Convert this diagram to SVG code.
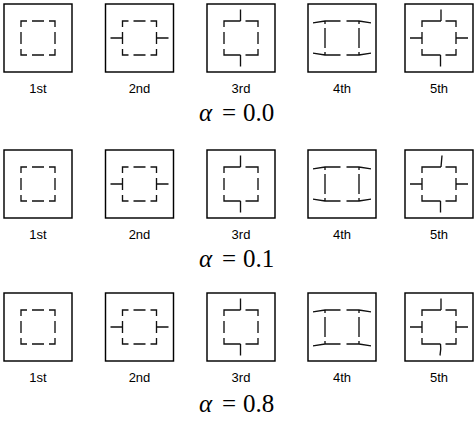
<svg xmlns="http://www.w3.org/2000/svg" xmlns:xlink="http://www.w3.org/1999/xlink" width="474" height="429" viewBox="0 0 474 429">
<style>
.box{fill:none;stroke:#000;stroke-width:1.45}
.sq{fill:none;stroke:#111;stroke-width:1.35;stroke-linecap:butt;stroke-linejoin:miter}
.lbl{font-family:"Liberation Sans",Arial,sans-serif;font-size:13px;text-anchor:middle;fill:#000}
.alpha{font-family:"Liberation Serif","Times New Roman",serif;font-size:25px;fill:#000}
</style>
<defs>
<rect id="frame" class="box" x="0" y="0" width="68" height="68"/>
<path id="t1" class="sq" d="M17,23V17H23M45,17H51V23M51,45V51H45M23,51H17V45M28,17H40M28,51H40M17,28V40M51,28V40"/>
<path id="t2" class="sq" d="M17,23V17H23M45,17H51V23M51,45V51H45M23,51H17V45M28,17H40M28,51H40M17,28V40M51,28V40M5,34H17M51,34H63"/>
<path id="t3" class="sq" d="M17,23V17H33.5M33.5,5.5V17M38.5,17H51V23M17,45V51H33.5M33.5,51V62.5M38.5,51H51V45M17,28V40M51,28V40"/>
<path id="t5" class="sq" d="M17,23V17H36M40.5,17H51V23M17,45V51H35.5M40.5,51H51V45M17,28V40M51,28V40M5,34H17M51,34H63"/>
</defs>

<g id="row1">
<g id="r1b1" transform="translate(4,4)"><use xlink:href="#frame"/><use xlink:href="#t1"/></g>
<g id="r1b2" transform="translate(105.5,4)"><use xlink:href="#frame"/><use xlink:href="#t2"/></g>
<g id="r1b3" transform="translate(207,4)"><use xlink:href="#frame"/><use xlink:href="#t3"/></g>
<g id="r1b4" transform="translate(308,4)"><use xlink:href="#frame"/><path class="sq" d="M5,18.8L17,17M17,20V17H32.5M38.5,17H51V20M51,17L63,18.8M17,24V44M51,24V44M17,48V51H32.5M38.5,51H51V48M5,49.2L17,51M51,51L63,49.2"/></g>
<g id="r1b5" transform="translate(405,4)"><use xlink:href="#frame"/><use xlink:href="#t5"/><path class="sq" d="M36,5.5V17M35.5,51V62.5"/></g>
<text class="lbl" x="38" y="93">1st</text>
<text class="lbl" x="139.5" y="93">2nd</text>
<text class="lbl" x="241" y="93">3rd</text>
<text class="lbl" x="342" y="93">4th</text>
<text class="lbl" x="439" y="93">5th</text>
<text class="alpha" y="121"><tspan x="199" font-style="italic">α</tspan><tspan x="222">=</tspan><tspan x="243">0.0</tspan></text>
</g>

<g id="row2">
<g id="r2b1" transform="translate(4,150)"><use xlink:href="#frame"/><use xlink:href="#t1"/></g>
<g id="r2b2" transform="translate(105.5,150)"><use xlink:href="#frame"/><use xlink:href="#t2"/></g>
<g id="r2b3" transform="translate(207,150)"><use xlink:href="#frame"/><use xlink:href="#t3"/></g>
<g id="r2b4" transform="translate(308,150)"><use xlink:href="#frame"/><path class="sq" d="M5,18.8L17,17M17,20V17H32.5M38.5,17H51V20M51,17L63,18.8M17,24V44M51,24V44M17,48V51H32.5M38.5,51H51V48M5,49.2L17,51M51,51L63,49.2"/></g>
<g id="r2b5" transform="translate(405,150)"><use xlink:href="#frame"/><use xlink:href="#t5"/><path class="sq" d="M37,5.5L36,17M35.5,51V62.5"/></g>
<text class="lbl" x="38" y="239">1st</text>
<text class="lbl" x="139.5" y="239">2nd</text>
<text class="lbl" x="241" y="239">3rd</text>
<text class="lbl" x="342" y="239">4th</text>
<text class="lbl" x="439" y="239">5th</text>
<text class="alpha" y="267"><tspan x="199" font-style="italic">α</tspan><tspan x="222">=</tspan><tspan x="243">0.1</tspan></text>
</g>

<g id="row3">
<g id="r3b1" transform="translate(4,293)"><use xlink:href="#frame"/><use xlink:href="#t1"/></g>
<g id="r3b2" transform="translate(105.5,293)"><use xlink:href="#frame"/><use xlink:href="#t2"/></g>
<g id="r3b3" transform="translate(207,293)"><use xlink:href="#frame"/><use xlink:href="#t3"/></g>
<g id="r3b4" transform="translate(308,293)"><use xlink:href="#frame"/><path class="sq" d="M5,18.8L17,17M17,20V17H32.5M38.5,17H51V20M51,17L63,18.8M17,24V44M51,24V44M17,48V51H32.5M38.5,51H51V48M5,52.8L17,51M51,51L63,52.8"/></g>
<g id="r3b5" transform="translate(405,293)"><use xlink:href="#frame"/><use xlink:href="#t5"/><path class="sq" d="M36,5.5V17M35.5,51Q36.3,56 35,62.5"/></g>
<text class="lbl" x="38" y="382">1st</text>
<text class="lbl" x="139.5" y="382">2nd</text>
<text class="lbl" x="241" y="382">3rd</text>
<text class="lbl" x="342" y="382">4th</text>
<text class="lbl" x="439" y="382">5th</text>
<text class="alpha" y="412"><tspan x="199" font-style="italic">α</tspan><tspan x="222">=</tspan><tspan x="243">0.8</tspan></text>
</g>
</svg>
